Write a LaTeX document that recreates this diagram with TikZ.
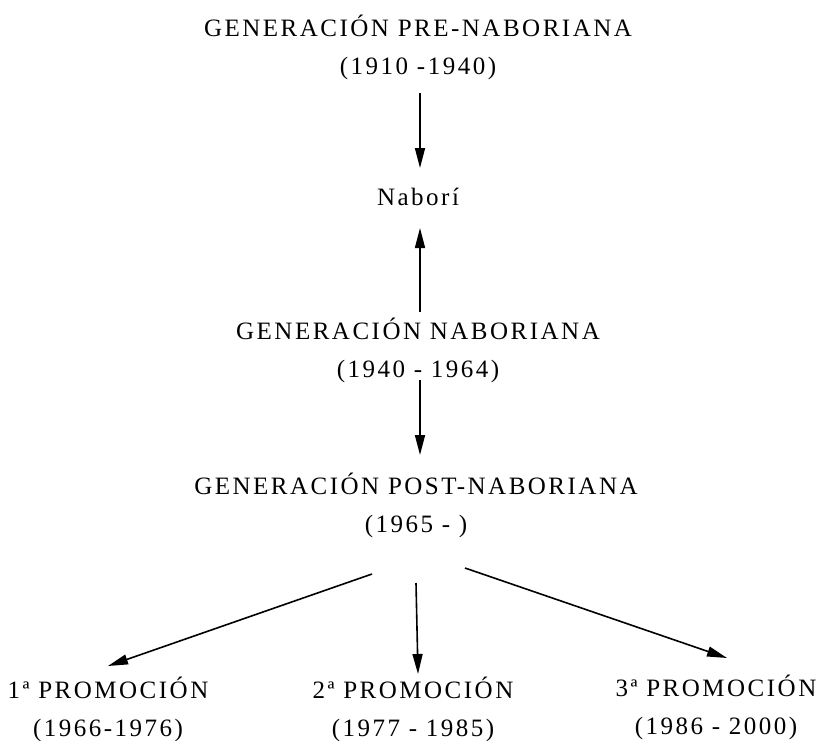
\documentclass[tikz,border=0pt]{standalone}
\usepackage{fontspec}
\setmainfont{Liberation Serif}[LetterSpace=10]
\usetikzlibrary{arrows.meta}
\begin{document}
\begin{tikzpicture}[x=1pt,y=-1pt,
  lbl/.style={align=center,inner sep=0pt,font=\fontsize{25}{38}\selectfont},
  conn/.style={line width=1.6pt,-{Triangle[length=20pt,width=10pt]}}]
\useasboundingbox (0,0) rectangle (820,740);
\node[lbl] (pre) at (418,47) {GENERACIÓN PRE-NABORIANA\\(1910 -1940)};
\node[lbl] (nabori) at (418,197) {Naborí};
\node[lbl] (nab) at (418,350) {GENERACIÓN NABORIANA\\(1940 - 1964)};
\node[lbl] (post) at (416,505) {GENERACIÓN POST-NABORIANA\\(1965 - )};
\node[lbl] (p1) at (108,709) {1ª PROMOCIÓN\\(1966-1976)};
\node[lbl] (p2) at (413,709) {2ª PROMOCIÓN\\(1977 - 1985)};
\node[lbl] (p3) at (716,707) {3ª PROMOCIÓN\\(1986 - 2000)};
\coordinate (a1s) at (420,93);  \coordinate (a1e) at (420,168);
\coordinate (a2s) at (420,312); \coordinate (a2e) at (420,228);
\coordinate (a3s) at (420,380); \coordinate (a3e) at (420,455);
\coordinate (b1s) at (372,574); \coordinate (b1e) at (108,666);
\coordinate (b2s) at (416,583); \coordinate (b2e) at (418,674);
\coordinate (b3s) at (465,568); \coordinate (b3e) at (727,658);
\draw[conn] (a1s) -- (a1e);
\draw[conn] (a2s) -- (a2e);
\draw[conn] (a3s) -- (a3e);
\draw[conn] (b1s) -- (b1e);
\draw[conn] (b2s) -- (b2e);
\draw[conn] (b3s) -- (b3e);
\end{tikzpicture}
\end{document}
